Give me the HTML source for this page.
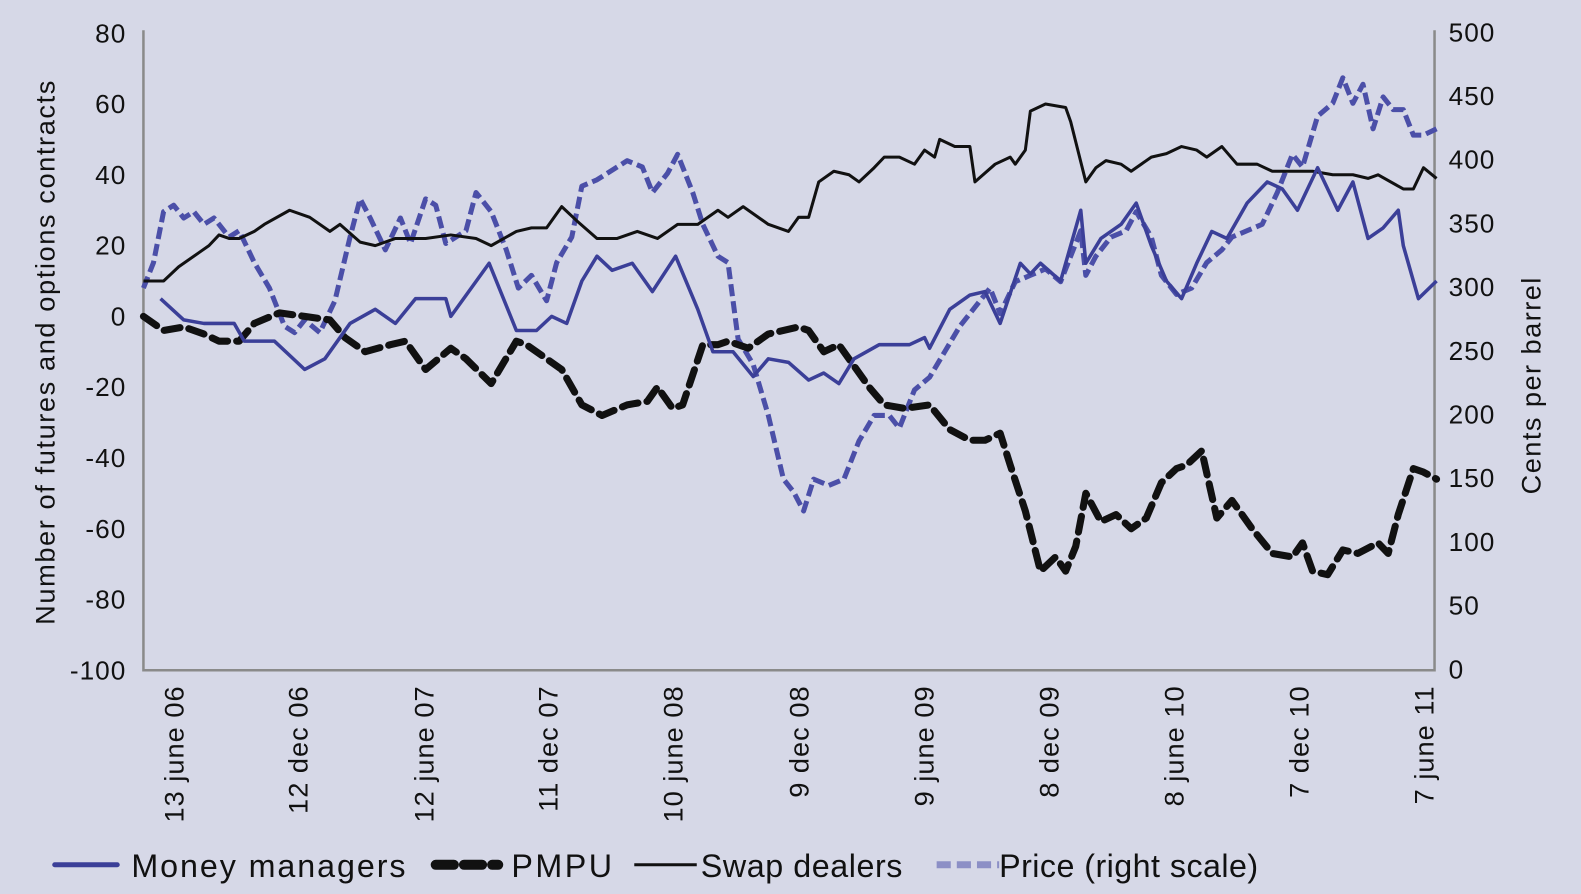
<!DOCTYPE html>
<html><head><meta charset="utf-8"><style>
body{margin:0;background:#d6d8e7;}
svg{display:block;font-family:"Liberation Sans",Arial,sans-serif;}
</style></head><body>
<svg id="chart" width="1581" height="894" viewBox="0 0 1568 887" xmlns="http://www.w3.org/2000/svg">
<rect width="1568" height="887" fill="#d6d8e7"/>
<g id="axes"></g>
<g id="series"></g>
<g id="legend"></g>
</svg>
<script>
const xTickLabels = ["13 june 06","12 dec 06","12 june 07","11 dec 07","10 june 08","9 dec 08","9 june 09","8 dec 09","8 june 10","7 dec 10","7 june 11"];
const xTickTimes = [30,153,278,401,525,650,774,898,1022,1146,1270];
const leftTicks = [80,60,40,20,0,-20,-40,-60,-80,-100];
const rightTicks = [500,450,400,350,300,250,200,150,100,50,0];

const mmT = [17,40,60,90,100,130,160,180,205,230,250,270,300,305,343,370,390,405,420,435,450,465,485,505,528,550,565,585,605,620,640,660,675,690,705,730,760,775,780,800,820,835,850,870,880,890,910,930,935,950,970,985,1000,1015,1030,1045,1060,1075,1095,1115,1130,1145,1165,1185,1200,1215,1230,1245,1250,1260,1265,1283];
const mmV = [5,-1,-2,-2,-7,-7,-15,-12,-2,2,-2,5,5,0,15,-4,-4,0,-2,10,17,13,15,7,17,2,-10,-10,-17,-12,-13,-18,-16,-19,-12,-8,-8,-6,-9,2,6,7,-2,15,12,15,10,30,15,22,26,32,20,10,5,15,24,22,32,38,36,30,42,30,38,22,25,30,20,10,5,10];

const pmT = [0,20,40,60,75,95,110,135,160,185,200,220,245,260,280,305,320,345,370,380,400,415,435,455,480,500,510,525,535,555,570,580,600,620,650,660,675,690,705,720,735,755,780,800,820,835,850,860,875,890,905,915,925,935,950,965,980,995,1010,1025,1035,1050,1065,1080,1100,1120,1140,1150,1160,1175,1190,1205,1225,1235,1245,1260,1270,1283];
const pmV = [0,-4,-3,-5,-7,-7,-2,1,0,-1,-6,-10,-8,-7,-15,-9,-12,-19,-7,-8,-12,-15,-25,-28,-25,-24,-20,-26,-25,-8,-8,-7,-9,-5,-3,-4,-10,-8,-14,-20,-25,-26,-25,-32,-35,-35,-33,-42,-55,-72,-68,-72,-65,-50,-58,-56,-60,-57,-47,-43,-42,-38,-57,-52,-60,-67,-68,-64,-72,-73,-66,-67,-64,-67,-56,-43,-44,-46];

const swT = [0,20,35,55,65,75,85,95,110,120,145,165,185,195,215,230,250,280,305,330,345,370,385,400,415,430,450,470,490,510,530,550,570,580,595,620,640,650,660,670,685,700,710,725,735,750,765,775,785,790,805,820,825,845,860,865,875,880,895,915,920,935,945,955,970,980,1000,1015,1030,1045,1055,1070,1085,1105,1120,1140,1160,1180,1200,1215,1225,1250,1260,1270,1283];
const swV = [10,10,14,18,20,23,22,22,24,26,30,28,24,26,21,20,22,22,23,22,20,24,25,25,31,27,22,22,24,22,26,26,30,28,31,26,24,28,28,38,41,40,38,42,45,45,43,47,45,50,48,48,38,43,45,43,47,58,60,59,55,38,42,44,43,41,45,46,48,47,45,48,43,43,41,41,41,40,40,39,40,36,36,42,39];

const prT = [0,10,20,30,40,50,60,70,85,95,110,125,140,150,160,175,190,205,215,225,240,255,265,280,290,300,320,330,345,360,372,385,400,410,425,435,450,470,480,495,505,520,530,545,555,570,580,590,605,620,635,645,655,665,680,695,710,725,740,750,765,780,795,810,825,840,850,865,880,895,910,930,935,945,960,975,985,1000,1010,1025,1040,1055,1070,1080,1095,1110,1125,1140,1150,1165,1180,1190,1200,1210,1220,1230,1240,1250,1260,1270,1283];
const prV = [300,320,360,365,355,360,350,355,340,345,320,300,270,265,275,265,290,340,370,355,330,355,335,370,365,335,345,375,360,330,300,310,290,320,340,380,385,395,400,395,375,390,405,375,350,325,320,260,240,200,150,140,125,150,145,150,180,200,200,190,220,230,250,270,285,300,280,305,310,315,305,345,310,325,340,345,360,340,310,295,300,320,330,340,345,350,375,405,395,435,445,465,445,460,425,450,440,440,420,420,425];

const NS="http://www.w3.org/2000/svg";
const X0=142, X1=1423, Y0=33, Y1=665;
const xs=t=>X0+t;
const yl=v=>Y1-(v+100)/180*(Y1-Y0);
const yr=v=>Y1-v/500*(Y1-Y0);
function mk(tag,attrs,parent,text){const e=document.createElementNS(NS,tag);for(const k in attrs)e.setAttribute(k,attrs[k]);if(text!==undefined)e.textContent=text;parent.appendChild(e);return e;}
const axes=document.getElementById('axes'), ser=document.getElementById('series'), leg=document.getElementById('legend');

let e=mk('path',{d:`M${X0},${Y0-3}V${Y1}H${X1}V${Y0-3}`,fill:'none',stroke:'#8a8a8a','stroke-width':2.5},axes);


leftTicks.forEach(v=>{const t=mk('text',{x:125,y:yl(v)+9,'text-anchor':'end','font-size':26,fill:'#111','letter-spacing':'1'},axes,String(v));

});
rightTicks.forEach(v=>{const t=mk('text',{x:1437,y:yr(v)+8,'text-anchor':'start','font-size':26,fill:'#111','letter-spacing':'1'},axes,String(v));

});
xTickLabels.forEach((s,i)=>{const x=xs(xTickTimes[i])+10;const t=mk('text',{x:x,y:680,'text-anchor':'end','font-size':27,fill:'#111','letter-spacing':'1'},axes,s);
t.setAttribute('transform',`rotate(-90 ${x} 680)`);

});
e=mk('text',{x:54,y:350,'text-anchor':'middle','font-size':27,fill:'#111',textLength:540,lengthAdjust:'spacing',transform:'rotate(-90 54 350)'},axes,'Number of futures and options contracts');


e=mk('text',{x:1528,y:383,'text-anchor':'middle','font-size':27,fill:'#111',textLength:215,lengthAdjust:'spacing',transform:'rotate(-90 1528 383)'},axes,'Cents per barrel');



function line(T,V,ys,style,name){const d=T.map((t,i)=>(i?'L':'M')+xs(t).toFixed(1)+','+ys(V[i]).toFixed(1)).join('');
const p=mk('path',Object.assign({d:d,fill:'none','stroke-linejoin':'round'},style),ser);

}
line(prT,prV,yr,{stroke:'#4b4fa8','stroke-width':5,'stroke-dasharray':'12 5'},'price-line');
line(swT,swV,yl,{stroke:'#111','stroke-width':3},'swap-dealers-line');
line(pmT,pmV,yl,{stroke:'#111','stroke-width':7,'stroke-dasharray':'16 9','stroke-linecap':'round'},'pmpu-line');
line(mmT,mmV,yl,{stroke:'#3b3f98','stroke-width':3.5},'money-managers-line');

const legItems=[
 {x:50,tx:130,tl:272,label:'Money managers',st:{stroke:'#3b3f98','stroke-width':5,'stroke-linecap':'round'},name:'legend-money-managers'},
 {x:428,tx:507,tl:100,label:'PMPU',st:{stroke:'#111','stroke-width':10,'stroke-dasharray':'18 10','stroke-linecap':'round'},name:'legend-pmpu'},
 {x:625,tx:695,tl:200,label:'Swap dealers',st:{stroke:'#111','stroke-width':3},name:'legend-swap-dealers'},
 {x:925,tx:991,tl:257,label:'Price (right scale)',st:{stroke:'#8c8fc6','stroke-width':7,'stroke-dasharray':'14 6'},name:'legend-price'}];
legItems.forEach(it=>{const g=mk('g',{},leg);


mk('line',Object.assign({x1:it.x+4,x2:it.x+66,y1:858,y2:858},it.st),g);
mk('text',{x:it.tx,y:870,'font-size':32,fill:'#111',textLength:it.tl,lengthAdjust:'spacing'},g,it.label);});
</script>
</body></html>
